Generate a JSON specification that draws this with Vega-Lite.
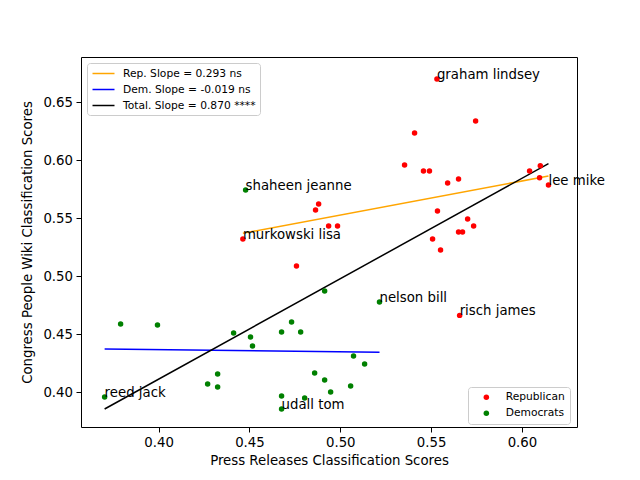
{
  "$schema": "https://vega.github.io/schema/vega-lite/v6.json",
  "autosize": "none",
  "padding": {"left": 81, "top": 57, "right": 63, "bottom": 53},
  "width": 496,
  "height": 370,
  "background": "white",
  "config": {
    "font": "DejaVu Sans",
    "view": {"stroke": "black", "strokeWidth": 1},
    "axis": {
      "grid": false,
      "domain": false,
      "tickColor": "black",
      "tickSize": 5,
      "labelFontSize": 13.3,
      "labelColor": "black",
      "titleFontSize": 13.3,
      "titleFontWeight": "normal",
      "titleColor": "black",
      "labelPadding": 3.5
    },
    "legend": {
      "labelFontSize": 10.7,
      "labelColor": "black",
      "strokeColor": "#cccccc",
      "fillColor": "white",
      "cornerRadius": 3,
      "orient": "none"
    }
  },
  "datasets": {
    "pts": [
      {"party": "Republican", "x": 0.5532, "y": 0.6702, "name": "graham lindsey"},
      {"party": "Republican", "x": 0.5745, "y": 0.6340, "name": ""},
      {"party": "Republican", "x": 0.5409, "y": 0.6236, "name": ""},
      {"party": "Republican", "x": 0.5354, "y": 0.5960, "name": ""},
      {"party": "Republican", "x": 0.5458, "y": 0.5909, "name": ""},
      {"party": "Republican", "x": 0.5491, "y": 0.5909, "name": ""},
      {"party": "Republican", "x": 0.5591, "y": 0.5805, "name": ""},
      {"party": "Republican", "x": 0.5651, "y": 0.5840, "name": ""},
      {"party": "Republican", "x": 0.6042, "y": 0.5909, "name": ""},
      {"party": "Republican", "x": 0.6101, "y": 0.5954, "name": ""},
      {"party": "Republican", "x": 0.6097, "y": 0.5851, "name": ""},
      {"party": "Republican", "x": 0.6146, "y": 0.5788, "name": "lee mike"},
      {"party": "Republican", "x": 0.5535, "y": 0.5564, "name": ""},
      {"party": "Republican", "x": 0.5701, "y": 0.5495, "name": ""},
      {"party": "Republican", "x": 0.5734, "y": 0.5434, "name": ""},
      {"party": "Republican", "x": 0.5651, "y": 0.5383, "name": ""},
      {"party": "Republican", "x": 0.5673, "y": 0.5383, "name": ""},
      {"party": "Republican", "x": 0.5508, "y": 0.5322, "name": ""},
      {"party": "Republican", "x": 0.5552, "y": 0.5228, "name": ""},
      {"party": "Republican", "x": 0.5657, "y": 0.4664, "name": "risch james"},
      {"party": "Republican", "x": 0.4881, "y": 0.5624, "name": ""},
      {"party": "Republican", "x": 0.4864, "y": 0.5572, "name": ""},
      {"party": "Republican", "x": 0.4936, "y": 0.5434, "name": ""},
      {"party": "Republican", "x": 0.4985, "y": 0.5434, "name": ""},
      {"party": "Republican", "x": 0.4464, "y": 0.5322, "name": "murkowski lisa"},
      {"party": "Republican", "x": 0.4759, "y": 0.5090, "name": ""},
      {"party": "Democrats", "x": 0.4479, "y": 0.5745, "name": "shaheen jeanne"},
      {"party": "Democrats", "x": 0.4914, "y": 0.4874, "name": ""},
      {"party": "Democrats", "x": 0.5216, "y": 0.4779, "name": "nelson bill"},
      {"party": "Democrats", "x": 0.4413, "y": 0.4512, "name": ""},
      {"party": "Democrats", "x": 0.4506, "y": 0.4478, "name": ""},
      {"party": "Democrats", "x": 0.4517, "y": 0.4400, "name": ""},
      {"party": "Democrats", "x": 0.4677, "y": 0.4521, "name": ""},
      {"party": "Democrats", "x": 0.4732, "y": 0.4607, "name": ""},
      {"party": "Democrats", "x": 0.4782, "y": 0.4521, "name": ""},
      {"party": "Democrats", "x": 0.5073, "y": 0.4314, "name": ""},
      {"party": "Democrats", "x": 0.5134, "y": 0.4245, "name": ""},
      {"party": "Democrats", "x": 0.4859, "y": 0.4167, "name": ""},
      {"party": "Democrats", "x": 0.4914, "y": 0.4107, "name": ""},
      {"party": "Democrats", "x": 0.5057, "y": 0.4055, "name": ""},
      {"party": "Democrats", "x": 0.4947, "y": 0.4003, "name": ""},
      {"party": "Democrats", "x": 0.4677, "y": 0.3969, "name": ""},
      {"party": "Democrats", "x": 0.4804, "y": 0.3952, "name": ""},
      {"party": "Democrats", "x": 0.4677, "y": 0.3857, "name": "udall tom"},
      {"party": "Democrats", "x": 0.3791, "y": 0.4590, "name": ""},
      {"party": "Democrats", "x": 0.3994, "y": 0.4581, "name": ""},
      {"party": "Democrats", "x": 0.4270, "y": 0.4072, "name": ""},
      {"party": "Democrats", "x": 0.4325, "y": 0.4159, "name": ""},
      {"party": "Democrats", "x": 0.4325, "y": 0.4047, "name": ""},
      {"party": "Democrats", "x": 0.3703, "y": 0.3960, "name": "reed jack"}
    ],
    "fits": [
      {"series": "Rep. Slope = 0.293 ns", "x": 0.4464, "y": 0.5372},
      {"series": "Rep. Slope = 0.293 ns", "x": 0.6146, "y": 0.5865},
      {"series": "Dem. Slope = -0.019 ns", "x": 0.3703, "y": 0.4375},
      {"series": "Dem. Slope = -0.019 ns", "x": 0.5216, "y": 0.4346},
      {"series": "Total. Slope = 0.870 ****", "x": 0.3703, "y": 0.3857},
      {"series": "Total. Slope = 0.870 ****", "x": 0.6146, "y": 0.5972}
    ]
  },
  "encoding": {
    "x": {
      "field": "x",
      "type": "quantitative",
      "title": "Press Releases Classification Scores",
      "scale": {"domain": [0.3573, 0.6303], "nice": false, "zero": false},
      "axis": {"values": [0.4, 0.45, 0.5, 0.55, 0.6], "format": ".2f", "titlePadding": 5}
    },
    "y": {
      "field": "y",
      "type": "quantitative",
      "title": "Congress People Wiki Classification Scores",
      "scale": {"domain": [0.3702, 0.6891], "nice": false, "zero": false},
      "axis": {"values": [0.4, 0.45, 0.5, 0.55, 0.6, 0.65], "format": ".2f", "titlePadding": 8}
    }
  },
  "layer": [
    {
      "data": {"name": "fits"},
      "mark": {"type": "line", "strokeWidth": 1.5},
      "encoding": {
        "stroke": {
          "field": "series",
          "type": "nominal",
          "scale": {
            "domain": ["Rep. Slope = 0.293 ns", "Dem. Slope = -0.019 ns", "Total. Slope = 0.870 ****"],
            "range": ["orange", "blue", "black"]
          },
          "legend": {
            "title": null,
            "legendX": 6,
            "legendY": 6,
            "symbolType": "M-2,0H2",
            "symbolSize": 121,
            "symbolStrokeWidth": 1.5,
            "symbolOffset": 6,
            "labelOffset": 13,
            "padding": 4,
            "rowPadding": 4
          }
        }
      }
    },
    {
      "data": {"name": "pts"},
      "mark": {"type": "point", "filled": true, "size": 30, "opacity": 1},
      "encoding": {
        "fill": {
          "field": "party",
          "type": "nominal",
          "scale": {"domain": ["Republican", "Democrats"], "range": ["red", "green"]},
          "legend": {
            "title": null,
            "legendX": 387,
            "legendY": 330,
            "symbolType": "circle",
            "symbolSize": 30,
            "symbolStrokeWidth": 0,
            "symbolOffset": 8,
            "labelOffset": 14,
            "padding": 5,
            "rowPadding": 4
          }
        }
      }
    },
    {
      "data": {"name": "pts"},
      "transform": [{"filter": "datum.name != ''"}],
      "mark": {"type": "text", "align": "left", "baseline": "alphabetic", "fontSize": 13.3, "color": "black"},
      "encoding": {"text": {"field": "name", "type": "nominal"}}
    }
  ]
}
